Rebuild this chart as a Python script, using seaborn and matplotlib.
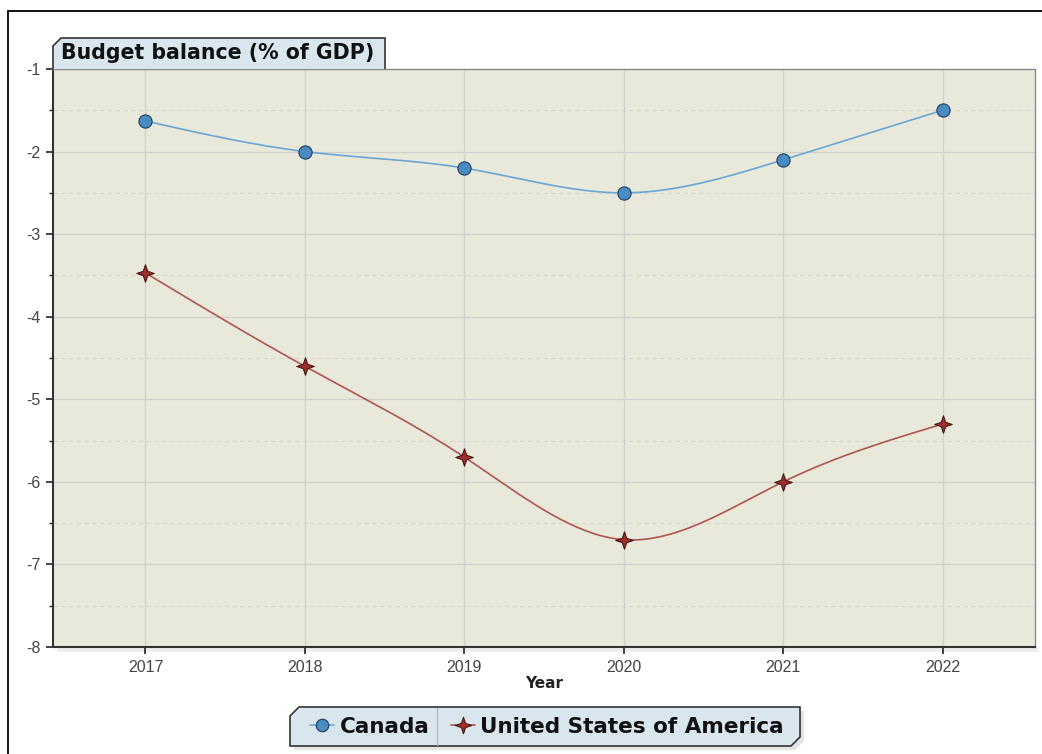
import numpy as np
import pandas as pd
import matplotlib
matplotlib.use("Agg")
import matplotlib.pyplot as plt
import seaborn as sns
from matplotlib.patches import Polygon, Rectangle
from matplotlib.path import Path
from matplotlib.lines import Line2D

# ---- data ----
years = [2017, 2018, 2019, 2020, 2021, 2022]
canada = [-1.63, -2.0, -2.2, -2.5, -2.1, -1.5]
usa = [-3.47, -4.6, -5.7, -6.7, -6.0, -5.3]
series_names = ["Canada", "United States of America"]
y_ticks = [-1, -2, -3, -4, -5, -6, -7, -8]
title_text = "Budget balance (% of GDP)"
x_label = "Year"

sns.set_theme(style="white")
plt.rcParams['font.family'] = ['DejaVu Sans']

W, H = 1042, 754
fig = plt.figure(figsize=(W / 100, H / 100), dpi=100)
fig.patch.set_facecolor("white")


def fx(px):
    return px / W


def fy(py):
    return 1 - py / H


L, R, T, B = 53, 1035, 69, 647
ax = fig.add_axes([fx(L), fy(B), fx(R) - fx(L), fy(T) - fy(B)])
ax.set_facecolor("#E9E9DB")


def natural_spline(x, y, n=40):
    x = np.asarray(x, float)
    y = np.asarray(y, float)
    m = len(x)
    h = np.diff(x)
    A = np.zeros((m, m))
    rhs = np.zeros(m)
    A[0, 0] = 1
    A[-1, -1] = 1
    for i in range(1, m - 1):
        A[i, i - 1] = h[i - 1]
        A[i, i] = 2 * (h[i - 1] + h[i])
        A[i, i + 1] = h[i]
        rhs[i] = 6 * ((y[i + 1] - y[i]) / h[i] - (y[i] - y[i - 1]) / h[i - 1])
    M = np.linalg.solve(A, rhs)
    xs, ys = [], []
    for i in range(m - 1):
        t = np.linspace(x[i], x[i + 1], n, endpoint=(i == m - 2))
        a = x[i + 1] - t
        b = t - x[i]
        s = (M[i] * a ** 3 + M[i + 1] * b ** 3) / (6 * h[i]) \
            + (y[i] / h[i] - M[i] * h[i] / 6) * a \
            + (y[i + 1] / h[i] - M[i + 1] * h[i] / 6) * b
        xs.extend(t)
        ys.extend(s)
    return np.array(xs), np.array(ys)


star = Path([(0, 1), (0.25, 0.25), (1, 0), (0.25, -0.25), (0, -1),
             (-0.25, -0.25), (-1, 0), (-0.25, 0.25), (0, 1)],
            [Path.MOVETO] + [Path.LINETO] * 7 + [Path.CLOSEPOLY])

line_cols = ["#6BA6D6", "#B0564F"]
mark_cols = ["#4A8BC2", "#9E2F2A"]
edge_cols = ["#1F3F5F", "#4A1512"]
markers = ["o", star]
msizes = [9.5, 12.5]

for vals, name, lc, mc, ec, mk, ms in zip([canada, usa], series_names, line_cols,
                                          mark_cols, edge_cols, markers, msizes):
    sx, sy = natural_spline(years, vals)
    sns.lineplot(x=sx, y=sy, ax=ax, color=lc, linewidth=1.2, zorder=3, sort=False)
    ax.plot(years, vals, linestyle="none", marker=mk, markersize=ms,
            markerfacecolor=mc, markeredgecolor=ec, markeredgewidth=0.8, zorder=4)

ax.set_xlim(2016.42, 2022.58)
ax.set_ylim(-8, -1)
ax.set_xticks(years)
ax.set_xticklabels([str(y) for y in years])
ax.set_yticks(y_ticks)
ax.set_yticklabels([str(v) for v in y_ticks])
ax.set_yticks([v - 0.5 for v in y_ticks[:-1]], minor=True)

ax.grid(True, which="major", color="#D0D0CC", linewidth=1.0, linestyle="-")
ax.grid(True, which="minor", axis="y", color="#D6D6CE", linewidth=0.8, linestyle=(0, (4, 3)))
ax.set_axisbelow(True)

for t in ax.get_xticklabels() + ax.get_yticklabels():
    t.set_fontfamily(["Liberation Sans", "DejaVu Sans"])
    t.set_fontsize(11.5)
    t.set_color("#444444")
ax.tick_params(axis="both", which="major", direction="out", length=5, width=1.2,
               color="#222222", pad=4, bottom=True, left=True)
ax.tick_params(axis="y", which="minor", direction="out", length=3, width=1.0,
               color="#222222", left=True)

for s in ["left", "bottom"]:
    ax.spines[s].set_color("#333333")
    ax.spines[s].set_linewidth(1.5)
for s in ["top", "right"]:
    ax.spines[s].set_color("#8A8A8A")
    ax.spines[s].set_linewidth(1.0)

ax.set_xlabel(x_label, fontsize=11, fontweight="bold", color="#222222", labelpad=1)
ax.set_ylabel("")

# subtle shadow under plot area
fig.add_artist(Rectangle((fx(L + 4), fy(B + 5)), fx(R) - fx(L), fy(B) - fy(B + 5),
                         transform=fig.transFigure, facecolor="#EEEEEE",
                         edgecolor="none", zorder=0))

# outer frame (left and top edges visible)
fig.add_artist(Line2D([fx(8), fx(8)], [fy(11), fy(760)], transform=fig.transFigure,
                      color="black", linewidth=1.3))
fig.add_artist(Line2D([fx(8), fx(1050)], [fy(11), fy(11)], transform=fig.transFigure,
                      color="black", linewidth=1.3))

# title box
tx0, tx1, ty0, ty1, c = 53, 385, 38, 69, 8
title_poly = [(tx0, ty1), (tx0, ty0 + c), (tx0 + c, ty0), (tx1, ty0), (tx1, ty1)]
fig.add_artist(Polygon([(fx(a), fy(b)) for a, b in title_poly], closed=False,
                       transform=fig.transFigure, facecolor="#D9E6EE",
                       edgecolor="#333333", linewidth=1.2, zorder=5))
fig.text(fx(61), fy(53), title_text, fontsize=14.8, fontweight="bold",
         color="#111111", va="center", ha="left", zorder=6)

# legend box
lx0, lx1, ly0, ly1, c2 = 290, 800, 707, 746, 9
leg_poly = [(lx0, ly1), (lx0, ly0 + c2), (lx0 + c2, ly0), (lx1, ly0),
            (lx1, ly1 - c2), (lx1 - c2, ly1)]
fig.add_artist(Polygon([(fx(a + 4), fy(b + 4)) for a, b in leg_poly], closed=True,
                       transform=fig.transFigure, facecolor="#E4E4E4",
                       edgecolor="none", zorder=4))
fig.add_artist(Polygon([(fx(a), fy(b)) for a, b in leg_poly], closed=True,
                       transform=fig.transFigure, facecolor="#D9E6EE",
                       edgecolor="#333333", linewidth=1.2, zorder=5))
fig.add_artist(Line2D([fx(437), fx(437)], [fy(ly0 + 1), fy(ly1 - 1)],
                      transform=fig.transFigure, color="#A9B8C2", linewidth=1.0, zorder=6))

handles = [Line2D([], [], color=lc, marker=mk, markersize=ms * 0.95, markerfacecolor=mc,
                  markeredgecolor=ec, markeredgewidth=0.8, linewidth=1.2)
           for lc, mc, ec, mk, ms in zip(line_cols, mark_cols, edge_cols, markers, msizes)]
leg = fig.legend(handles, series_names, loc="center",
                 bbox_to_anchor=(fx(547), fy(727)), ncol=2, frameon=False,
                 prop={"weight": "bold", "size": 15.5}, handlelength=1.1,
                 handletextpad=0.25, columnspacing=1.0, borderpad=0, borderaxespad=0)
leg.set_zorder(7)
for t in leg.get_texts():
    t.set_color("#111111")

fig.savefig("out.png", dpi=100)
